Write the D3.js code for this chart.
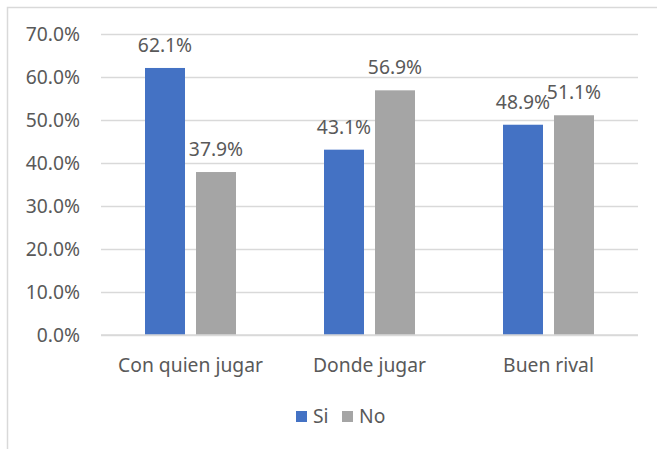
<!DOCTYPE html>
<html><head><meta charset="utf-8">
<script src="https://cdn.jsdelivr.net/npm/d3@7"></script>
<style>body{margin:0;background:#fff;} svg{display:block;}</style>
</head><body>
<svg id="c" width="657" height="449"></svg>
<script>
const categories = ["Con quien jugar", "Donde jugar", "Buen rival"];
const seriesNames = ["Si", "No"];
const siValues = [62.1, 43.1, 48.9];
const noValues = [37.9, 56.9, 51.1];
const yTicks = [0, 10, 20, 30, 40, 50, 60, 70];
const colors = ["#4472C4", "#A5A5A5"];

(function () {
const svg = d3.select("#c");
const font = "'Noto Sans', 'Open Sans', sans-serif";
const textColor = "#595959";
const fs = "19.3px";

// chart border (cut off on right/bottom)
svg.append("rect").attr("x", 7.5).attr("y", 7.5).attr("width", 700).attr("height", 500)
  .attr("fill", "#fff").attr("stroke", "#D9D9D9").attr("stroke-width", 1.5);

const mLeft = 101, mRight = 638, mTop = 34, mBottom = 335;
const x = d3.scaleBand().domain(categories).range([mLeft, mRight]).paddingInner(0).paddingOuter(0);
const y = d3.scaleLinear().domain([0, 70]).range([mBottom, mTop]);
const bandW = x.bandwidth();
const barW = 40, gap = 11;
const x1 = d3.scaleBand().domain(seriesNames).range([0, barW * 2 + gap]).paddingInner(gap / (barW + gap)).paddingOuter(0);

// gridlines
const yAxis = d3.axisLeft(y).tickValues(yTicks).tickSize(-(mRight - mLeft)).tickFormat(d => d.toFixed(1) + "%");
const gy = svg.append("g").attr("transform", `translate(${mLeft},0)`).call(yAxis);
gy.select(".domain").remove();
gy.selectAll(".tick line").attr("stroke", "#D9D9D9").attr("stroke-width", 1.5);
gy.selectAll(".tick text").attr("x", -21).attr("dy", "0.35em").attr("fill", textColor)
  .style("font-family", font).style("font-size", fs);

const data = categories.map((c, i) => ({cat: c, vals: [siValues[i], noValues[i]]}));
const groups = svg.append("g").selectAll("g").data(data).join("g")
  .attr("transform", d => `translate(${x(d.cat) + (bandW - (barW * 2 + gap)) / 2},0)`);

groups.selectAll("rect").data(d => d.vals.map((v, j) => ({v, s: seriesNames[j], j})))
  .join("rect")
  .attr("x", d => x1(d.s)).attr("width", x1.bandwidth())
  .attr("y", d => y(d.v)).attr("height", d => mBottom - y(d.v))
  .attr("fill", d => colors[d.j]);

groups.selectAll("text.lbl").data(d => d.vals.map((v, j) => ({v, s: seriesNames[j], j})))
  .join("text").attr("class", "lbl")
  .attr("x", d => x1(d.s) + x1.bandwidth() / 2)
  .attr("y", d => y(d.v) - 16)
  .attr("text-anchor", "middle").attr("fill", textColor)
  .style("font-family", font).style("font-size", fs)
  .text(d => d.v.toFixed(1) + "%");

// x axis baseline
svg.append("line").attr("x1", mLeft).attr("x2", mRight).attr("y1", mBottom).attr("y2", mBottom)
  .attr("stroke", "#D9D9D9").attr("stroke-width", 1.5);

// category labels
const xAxis = d3.axisBottom(x).tickSize(0).tickPadding(0);
const gx = svg.append("g").attr("transform", `translate(0,${mBottom})`).call(xAxis);
gx.select(".domain").remove();
gx.selectAll(".tick text").attr("y", 37).attr("dy", 0).attr("fill", textColor)
  .style("font-family", font).style("font-size", fs);

// legend
const legendX = [296, 342];
const lg = svg.append("g").selectAll("g").data(seriesNames).join("g")
  .attr("transform", (d, i) => `translate(${legendX[i]},411)`);
lg.append("rect").attr("width", 11).attr("height", 11).attr("fill", (d, i) => colors[i]);
lg.append("text").attr("x", 17).attr("y", 11.5).attr("fill", textColor)
  .style("font-family", font).style("font-size", fs).text(d => d);
})();
</script>
</body></html>
